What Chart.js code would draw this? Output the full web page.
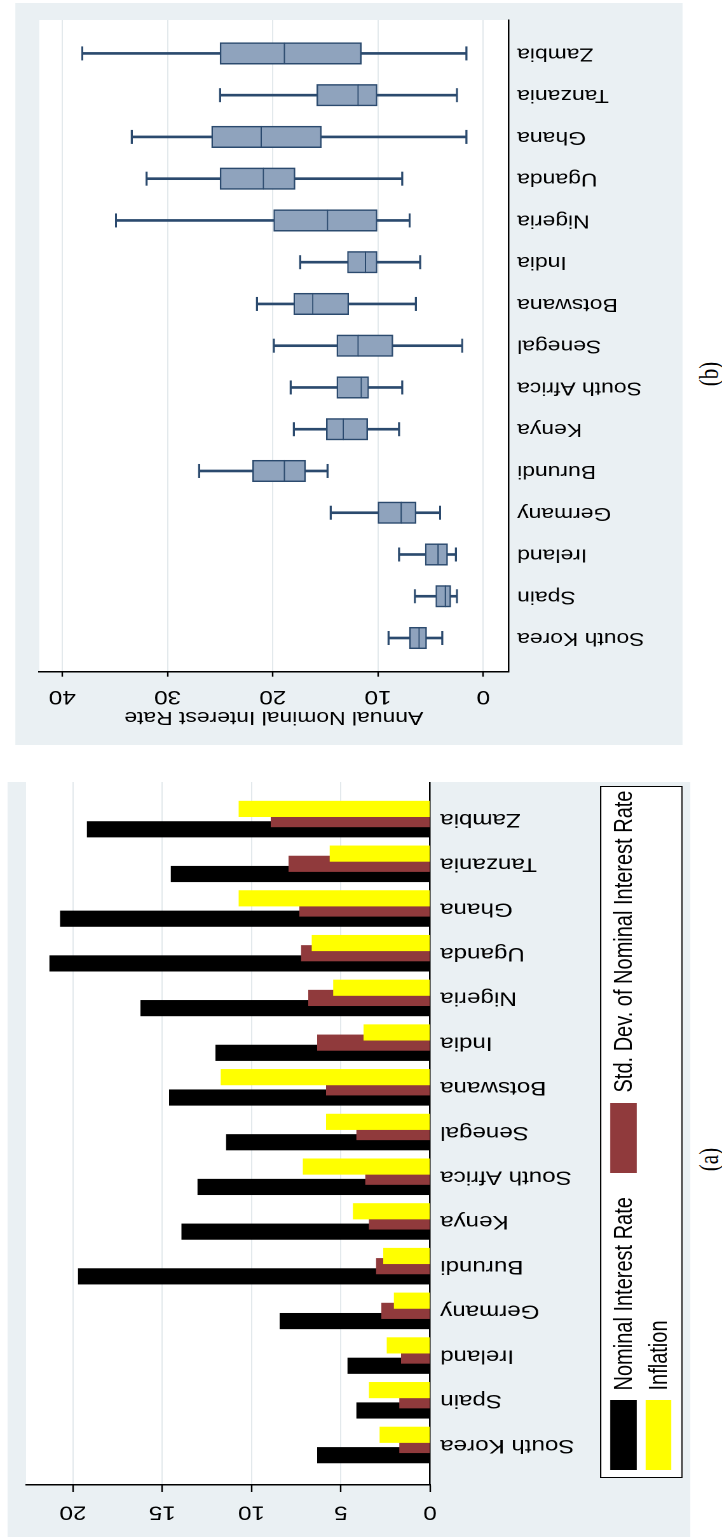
<!DOCTYPE html>
<html>
<head>
<meta charset="utf-8">
<title>Interest rates by country</title>
<script src="https://cdn.jsdelivr.net/npm/chart.js@4.4.0/dist/chart.umd.min.js"></script>
<style>
    html, body {
        margin: 0;
        padding: 0;
        background: #ffffff;
        overflow: hidden;
        width: 722px;
        height: 1538px;
    }

    /* the figure is laid out landscape and turned to the page */
    #page {
        position: absolute;
        left: 0;
        top: 0;
        width: 1538px;
        height: 568px;
        transform-origin: 0 0;
        transform: translateY(1538px) rotate(-90deg) scaleY(1.27113);
        font-family: 'Liberation Sans', Arial, sans-serif;
    }

    .panel {
        position: absolute;
        background: #eaf0f3;
    }

    .panel canvas {
        position: absolute;
        left: 0;
        top: 0;
    }

    #panel-a {
        left: 1px;
        top: 6px;
        width: 755px;
        height: 537px;
    }

    #panel-b {
        left: 793px;
        top: 12px;
        width: 742px;
        height: 525px;
    }

    .legend {
        position: absolute;
        left: 59px;
        top: 466px;
        width: 692px;
        height: 65px;
        box-sizing: border-box;
        background: #ffffff;
        border: 1.5px solid #000000;
    }

    .legend .swatch {
        position: absolute;
        width: 70px;
        height: 20.5px;
    }

    .legend .text {
        position: absolute;
        font-size: 20px;
        line-height: 20px;
        height: 20px;
        color: #000000;
        white-space: nowrap;
    }

    .caption {
        position: absolute;
        top: 548px;
        width: 60px;
        text-align: center;
        font-family: 'Liberation Serif', 'DejaVu Serif', serif;
        font-size: 21px;
        line-height: 21px;
        color: #000000;
    }
</style>
</head>
<body>
<div id="page">
    <div class="panel" id="panel-a">
        <canvas id="chart-bars" width="755" height="537"></canvas>
        <div class="legend">
            <div class="swatch" id="swatch-nominal" style="left: 6.5px; top: 7px;"></div>
            <div class="text" style="left: 86.5px; top: 7px;">Nominal Interest Rate</div>
            <div class="swatch" id="swatch-std" style="left: 303.5px; top: 7px;"></div>
            <div class="text" style="left: 384.5px; top: 7px;">Std. Dev. of Nominal Interest Rate</div>
            <div class="swatch" id="swatch-inflation" style="left: 6.5px; top: 34.7px;"></div>
            <div class="text" style="left: 86.5px; top: 34.8px;">Inflation</div>
        </div>
    </div>
    <div class="panel" id="panel-b">
        <canvas id="chart-box" width="742" height="525"></canvas>
    </div>
    <div class="caption" style="left: 348.5px;">(a)</div>
    <div class="caption" style="left: 1134px;">(b)</div>
</div>

<script>
    // countries, sorted by std. dev. of the nominal rate
    const countries = ['South Korea', 'Spain', 'Ireland', 'Germany', 'Burundi', 'Kenya', 'South Africa',
        'Senegal', 'Botswana', 'India', 'Nigeria', 'Uganda', 'Ghana', 'Tanzania', 'Zambia'];

    // panel (a): averages
    const nominalRate = [6.3, 4.1, 4.6, 8.4, 19.7, 13.9, 13.0, 11.4, 14.6, 12.0, 16.2, 21.3, 20.7, 14.5, 19.2];
    const stdDevRate = [1.7, 1.7, 1.6, 2.7, 3.0, 3.4, 3.6, 4.1, 5.8, 6.3, 6.8, 7.2, 7.3, 7.9, 8.9];
    const inflation = [2.8, 3.4, 2.4, 2.0, 2.6, 4.3, 7.1, 5.8, 11.7, 3.7, 5.4, 6.6, 10.7, 5.6, 10.7];
    const barTicks = [0, 5, 10, 15, 20];

    // panel (b): annual nominal interest rate, box plot summary
    const rateMin = [3.9, 2.5, 2.6, 4.1, 14.8, 8.0, 7.7, 2.0, 6.4, 6.0, 7.0, 7.7, 1.6, 2.5, 1.6];
    const rateQ1 = [5.4, 3.1, 3.4, 6.4, 16.9, 11.0, 10.9, 8.6, 12.8, 10.1, 10.1, 17.9, 15.4, 10.1, 11.6];
    const rateMedian = [6.1, 3.6, 4.3, 7.8, 18.9, 13.3, 11.6, 11.9, 16.2, 11.2, 14.8, 20.9, 21.1, 11.9, 18.9];
    const rateQ3 = [7.0, 4.5, 5.5, 10.0, 21.9, 14.9, 13.9, 13.9, 18.0, 12.9, 19.9, 25.0, 25.8, 15.8, 25.0];
    const rateMax = [9.0, 6.5, 8.0, 14.5, 27.0, 18.0, 18.3, 19.9, 21.5, 17.4, 34.9, 32.0, 33.4, 25.0, 38.1];
    const boxTicks = [0, 10, 20, 30, 40];

    const colorNominal = '#000000';
    const colorStd = '#903a3c';
    const colorInflation = '#ffff00';
    const boxFill = '#8fa3bd';
    const boxLine = '#2b4a6e';
    const gridColor = '#e3e9ec';

    document.getElementById('swatch-nominal').style.background = colorNominal;
    document.getElementById('swatch-std').style.background = colorStd;
    document.getElementById('swatch-inflation').style.background = colorInflation;

    Chart.defaults.font.family = "'Liberation Sans', Arial, sans-serif";
    Chart.defaults.color = '#000000';

    // white plot region on the tinted graph region
    const plotBackground = {
        id: 'plotBackground',
        beforeDraw(chart) {
            const {ctx, chartArea} = chart;
            ctx.save();
            ctx.fillStyle = '#ffffff';
            ctx.fillRect(chartArea.left, chartArea.top, chartArea.right - chartArea.left, chartArea.bottom - chartArea.top);
            ctx.restore();
        }
    };

    function clearPadding(axis) {
        axis.paddingLeft = 0;
        axis.paddingRight = 0;
        axis.paddingTop = 0;
        axis.paddingBottom = 0;
    }

    function countryAxis(min, max, fontSize, padding, height) {
        return {
            type: 'linear',
            min: min,
            max: max,
            offset: false,
            afterBuildTicks: axis => {
                axis.ticks = countries.map((c, i) => ({value: i}));
            },
            afterFit: axis => {
                axis.height = height;
                clearPadding(axis);
            },
            ticks: {
                autoSkip: false,
                minRotation: 90,
                maxRotation: 90,
                padding: padding,
                font: {size: fontSize},
                callback: value => countries[value]
            },
            grid: {display: false, drawTicks: false, offset: false},
            border: {display: true, color: '#000000', width: 1.2}
        };
    }

    function valueAxis(min, max, ticks, tickLength, width) {
        return {
            type: 'linear',
            min: min,
            max: max,
            afterBuildTicks: axis => {
                axis.ticks = ticks.map(v => ({value: v}));
            },
            afterFit: axis => {
                axis.width = width;
                clearPadding(axis);
            },
            ticks: {
                minRotation: 90,
                maxRotation: 90,
                crossAlign: 'center',
                padding: 9,
                font: {size: 19}
            },
            grid: {
                color: gridColor,
                lineWidth: 1,
                tickColor: '#000000',
                tickLength: tickLength,
                tickWidth: 1.2
            },
            border: {display: true, color: '#000000', width: 1.5}
        };
    }

    // ---------- panel (a) ----------
    // the three bars of a country overlap, each set a little to the side
    const barShift = 0.228;

    new Chart(document.getElementById('chart-bars'), {
        type: 'bar',
        data: {
            datasets: [{
                label: 'Nominal Interest Rate',
                data: countries.map((c, i) => ({x: i - barShift, y: nominalRate[i]})),
                backgroundColor: colorNominal,
                order: 3
            }, {
                label: 'Std. Dev. of Nominal Interest Rate',
                data: countries.map((c, i) => ({x: i, y: stdDevRate[i]})),
                backgroundColor: colorStd,
                order: 2
            }, {
                label: 'Inflation',
                data: countries.map((c, i) => ({x: i + barShift, y: inflation[i]})),
                backgroundColor: colorInflation,
                order: 1
            }]
        },
        options: {
            responsive: false,
            animation: false,
            devicePixelRatio: 2,
            datasets: {
                bar: {grouped: false, barThickness: 15.5, borderWidth: 0}
            },
            layout: {padding: {top: 14.5, right: 0, bottom: 0, left: 0}},
            plugins: {
                legend: {display: false},
                tooltip: {enabled: false}
            },
            scales: {
                x: countryAxis(-0.895, 14.83, 19, 8, 204.7),
                y: valueAxis(0, 22.63, barTicks, 7, 52)
            }
        },
        plugins: [plotBackground]
    });

    // ---------- panel (b) ----------
    const boxValueAxis = valueAxis(-2.38, 42.19, boxTicks, 5, 73.3);
    boxValueAxis.title = {
        display: true,
        text: 'Annual Nominal Interest Rate',
        font: {size: 18},
        padding: {top: 17, bottom: 0}
    };

    new Chart(document.getElementById('chart-box'), {
        type: 'bar',
        data: {
            datasets: [{
                label: 'Whiskers',
                data: countries.map((c, i) => ({x: i, y: [rateMin[i], rateMax[i]]})),
                backgroundColor: boxLine,
                barThickness: 2,
                order: 4
            }, {
                label: 'Lower quartile to median',
                data: countries.map((c, i) => ({x: i, y: [rateQ1[i], rateMedian[i]]})),
                backgroundColor: boxFill,
                borderColor: boxLine,
                borderWidth: {left: 1.5, right: 1.5, top: 0.8, bottom: 1.2},
                borderSkipped: false,
                barThickness: 21.5,
                order: 3
            }, {
                label: 'Median to upper quartile',
                data: countries.map((c, i) => ({x: i, y: [rateMedian[i], rateQ3[i]]})),
                backgroundColor: boxFill,
                borderColor: boxLine,
                borderWidth: {left: 1.5, right: 1.5, top: 1.2, bottom: 0.8},
                borderSkipped: false,
                barThickness: 21.5,
                order: 2
            }, {
                type: 'line',
                label: 'Whisker ends',
                data: countries.flatMap((c, i) => [{x: i, y: rateMin[i]}, {x: i, y: rateMax[i]}]),
                showLine: false,
                pointStyle: 'line',
                pointRadius: 7,
                pointBorderWidth: 1.6,
                pointBorderColor: boxLine,
                borderColor: boxLine,
                order: 1
            }]
        },
        options: {
            responsive: false,
            animation: false,
            devicePixelRatio: 2,
            datasets: {
                bar: {grouped: false}
            },
            layout: {padding: {top: 18.9, right: 17, bottom: 0, left: 0}},
            plugins: {
                legend: {display: false},
                tooltip: {enabled: false}
            },
            scales: {
                x: countryAxis(-0.807, 14.80, 18, 7, 137.1),
                y: boxValueAxis
            }
        },
        plugins: [plotBackground]
    });
</script>
</body>
</html>
